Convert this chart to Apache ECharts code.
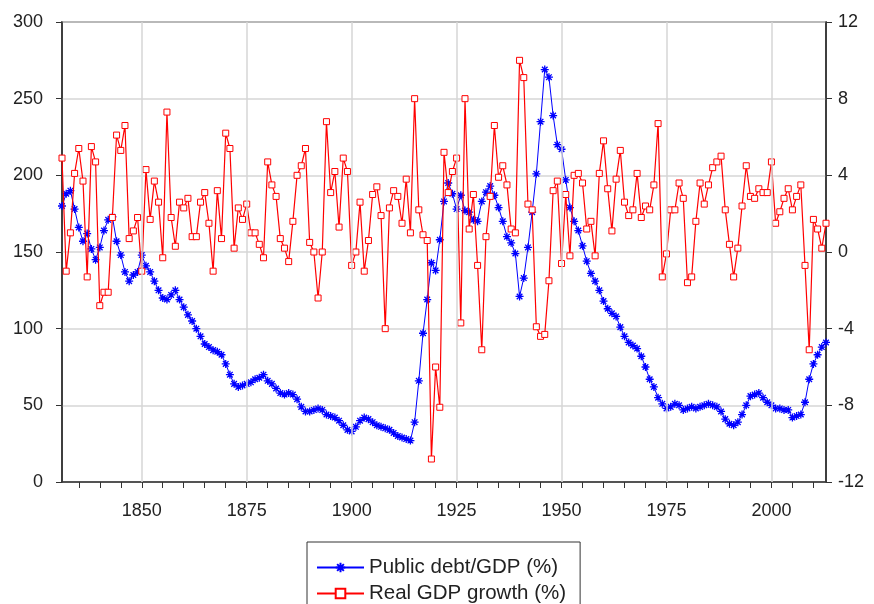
<!DOCTYPE html>
<html><head><meta charset="utf-8">
<script src="https://cdn.jsdelivr.net/npm/echarts@6/dist/echarts.min.js"></script>
<style>html,body{margin:0;padding:0;background:#fff}#c{width:874px;height:604px}</style>
</head><body><div id="c"></div>
<script>
const startYear = 1831;
// Public debt/GDP (%), 1831-2013
const debtGDP = [
180,188,190,178,166,157,162,152,145,153,
164,171,173,157,148,137,131,135,137,148,
141,137,131,125,120,119,122,125,119,114,
109,105,100,95,90,88,86,85,83,77,
70,64,62,63,64,65,67,68,70,66,
64,61,58,57,58,57,54,49,46,46,
47,48,47,44,43,42,40,37,34,33,
36,40,42,41,39,37,36,35,34,32,
30,29,28,27,39,66,97,119,143,138,
158,183,195,188,178,187,177,176,171,170,
183,189,193,187,179,170,160,156,149,121,
133,153,176,201,235,269,264,239,220,217,
197,179,170,164,154,144,136,131,125,118,
113,110,108,101,95,91,89,87,82,75,
67,62,55,51,48,49,51,50,47,48,
49,48,49,50,51,50,49,46,41,38,
37,39,44,50,56,57,58,55,52,50,
48,48,47,47,42,43,44,52,67,77,
83,88,91
];
// Real GDP growth (%), 1831-2013
const gdpGrowth = [
4.9,-1.0,1.0,4.1,5.4,3.7,-1.3,5.5,4.7,-2.8,
-2.1,-2.1,1.8,6.1,5.3,6.6,0.7,1.1,1.8,-1.0,
4.3,1.7,3.7,2.6,-0.3,7.3,1.8,0.3,2.6,2.3,
2.8,0.8,0.8,2.6,3.1,1.5,-1.0,3.2,0.7,6.2,
5.4,0.2,2.3,1.7,2.5,1.0,1.0,0.4,-0.3,4.7,
3.5,2.9,0.7,0.2,-0.5,1.6,4.0,4.5,5.4,0.5,
0.0,-2.4,0.0,6.8,3.1,4.2,1.3,4.9,4.2,-0.7,
0.0,2.6,-1.0,0.6,3.0,3.4,1.9,-4.0,2.3,3.2,
2.9,1.5,3.8,1.0,8.0,2.2,0.9,0.6,-10.8,-6.0,
-8.1,5.2,3.1,4.2,4.9,-3.7,8.0,1.2,3.0,-0.7,
-5.1,0.8,2.9,6.6,3.9,4.5,3.5,1.2,1.0,10.0,
9.1,2.5,2.2,-3.9,-4.4,-4.3,-1.5,3.2,3.7,-0.6,
3.0,-0.2,4.0,4.1,3.6,1.2,1.6,-0.2,4.1,5.8,
3.3,1.1,3.8,5.3,2.6,1.9,2.2,4.1,1.8,2.4,
2.2,3.5,6.7,-1.3,-0.1,2.2,2.2,3.6,2.8,-1.6,
-1.3,1.6,3.6,2.5,3.5,4.4,4.7,5.0,2.2,0.4,
-1.3,0.2,2.4,4.5,2.9,2.8,3.3,3.1,3.1,4.7,
1.5,2.1,2.8,3.3,2.2,2.9,3.5,-0.7,-5.1,1.7,
1.2,0.2,1.5
];
const yearLabels = [1850,1875,1900,1925,1950,1975,2000];
const yearTicks = [1835,1840,1845,1850,1855,1860,1865,1870,1875,1880,1885,1890,1895,1900,1905,1910,1915,1920,1925,1930,1935,1940,1945,1950,1955,1960,1965,1970,1975,1980,1985,1990,1995,2000,2005,2010];
const seriesNames = ['Public debt/GDP (%)','Real GDP growth (%)'];

const debtData = debtGDP.map((v,i)=>[startYear+i, v]);
const growthData = gdpGrowth.map((v,i)=>[startYear+i, v]);

const FONT = "'Liberation Sans', Arial, sans-serif";
const legendText = {fontFamily:FONT, fontSize:20.5, color:'#222'};
const chart = echarts.init(document.getElementById('c'), null, {renderer:'canvas'});
chart.setOption({
  animation:false,
  backgroundColor:'#ffffff',
  grid:{left:62, right:48, top:22, bottom:122, show:true, borderColor:'#333', borderWidth:1.5},
  legend:[
    {left:307, top:542, padding:[15,22,60,9], itemWidth:47, itemHeight:12, itemGap:0,
     borderColor:'#333', borderWidth:1, textStyle:legendText, data:[seriesNames[0]]},
    {left:316, top:583, padding:0, itemWidth:47, itemHeight:12, itemGap:0,
     textStyle:legendText, data:[seriesNames[1]]}
  ],
  xAxis:{
    type:'value', min:1831, max:2013,
    axisLine:{show:true, lineStyle:{color:'#333', width:1.5}},
    axisTick:{show:true, inside:false, length:6, customValues:yearTicks, lineStyle:{color:'#333', width:1}},
    axisLabel:{customValues:yearLabels, formatter:(v)=>String(v), fontFamily:FONT, fontSize:18, color:'#222', margin:20},
    splitLine:{show:false}
  },
  yAxis:[
    {type:'value', min:0, max:300, interval:50, position:'left',
     axisLine:{show:true, lineStyle:{color:'#333', width:1.5}},
     axisTick:{show:true, inside:false, length:6, lineStyle:{color:'#333'}},
     axisLabel:{fontFamily:FONT, fontSize:18, color:'#222', margin:19},
     splitLine:{show:true, lineStyle:{color:'#d6d6d6', width:1.5}}},
    {type:'value', min:-12, max:12, interval:4, position:'right',
     axisLine:{show:true, lineStyle:{color:'#333', width:1.5}},
     axisTick:{show:true, inside:false, length:6, lineStyle:{color:'#333'}},
     axisLabel:{fontFamily:FONT, fontSize:18, color:'#222', margin:12},
     splitLine:{show:false}}
  ],
  series:[
    {name:'grid', type:'line', data:[], silent:true, z:1,
     markLine:{silent:true, symbol:['none','none'], label:{show:false},
       lineStyle:{color:'#d6d6d6', width:1.5, type:'solid'},
       data:yearLabels.map(y=>({xAxis:y}))}},
    {name:seriesNames[0], type:'line', yAxisIndex:0, data:debtData,
     symbol:'path://M5 0L5 10M0 5L10 5M1.5 1.5L8.5 8.5M1.5 8.5L8.5 1.5', symbolSize:8, showAllSymbol:true,
     lineStyle:{color:'#0000ff', width:1},
     itemStyle:{color:'#0000ff', borderColor:'#0000ff', borderWidth:1.3},
     z:3},
    {name:seriesNames[1], type:'line', yAxisIndex:1, data:growthData,
     symbol:'rect', symbolSize:6, showAllSymbol:true,
     lineStyle:{color:'#ff0000', width:1.2},
     itemStyle:{color:'#ffffff', borderColor:'#ff0000', borderWidth:1},
     z:4}
  ]
});
</script>
</body></html>
